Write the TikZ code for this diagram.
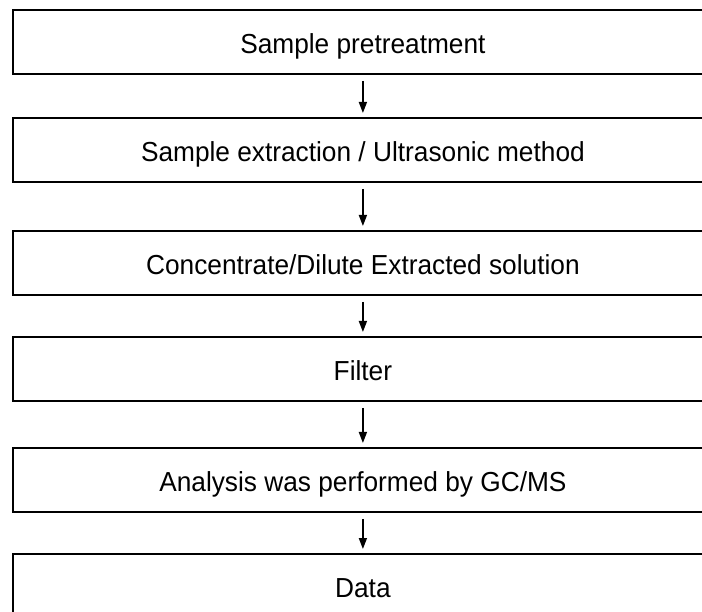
\documentclass[tikz,border=0pt]{standalone}
\usepackage{fontspec}
\setmainfont{Liberation Sans}[FakeStretch=0.955]
\usetikzlibrary{arrows.meta}
\begin{document}
\begin{tikzpicture}[x=1pt,y=-1pt,
  stepbox/.style={draw=black, line width=1.8pt, minimum width=700pt, minimum height=64pt,
    inner sep=0pt, anchor=north west, align=center, text height=26pt, text depth=2pt,
    font=\fontsize{27.5}{32}\selectfont},
  flow/.style={-{Triangle[length=11pt,width=8pt]}, line width=1.6pt,
    shorten <=6pt, shorten >=4pt}]
\useasboundingbox (0,0) rectangle (702,612);
\clip (0,0) rectangle (702,612);
\node[stepbox] (b1) at (12,9)   {Sample pretreatment};
\node[stepbox] (b2) at (12,117) {Sample extraction / Ultrasonic method};
\node[stepbox] (b3) at (12,230) {Concentrate/Dilute Extracted solution};
\node[stepbox] (b4) at (12,336) {Filter};
\node[stepbox] (b5) at (12,447) {Analysis was performed by GC/MS};
\node[stepbox] (b6) at (12,553) {Data};
\draw[flow] (b1.south) -- (b2.north);
\draw[flow] (b2.south) -- (b3.north);
\draw[flow] (b3.south) -- (b4.north);
\draw[flow] (b4.south) -- (b5.north);
\draw[flow] (b5.south) -- (b6.north);
\end{tikzpicture}
\end{document}
